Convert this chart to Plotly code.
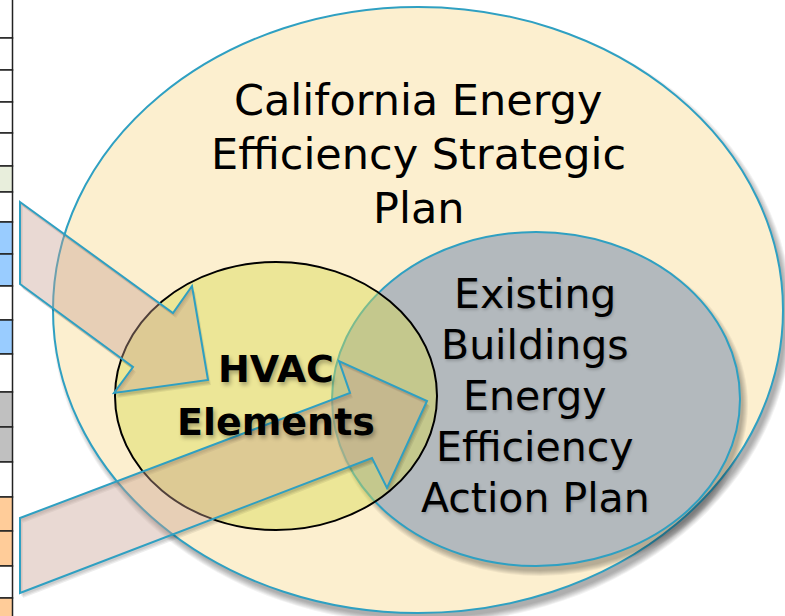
import plotly.graph_objects as go

# ---------------- text content ----------------
title_lines = ["California Energy", "Efficiency Strategic", "Plan"]
action_lines = ["Existing", "Buildings", "Energy", "Efficiency", "Action Plan"]
hvac_lines = ["HVAC", "Elements"]

# left table strip: cell fill categories (top to bottom)
strip_cells = ["w", "w", "w", "w", "w", "green", "w", "blue", "blue", "w", "blue", "w",
               "gray", "gray", "w", "orange", "orange", "w", "orange"]

# ---------------- geometry / styles ----------------
W, H = 785, 616
strip_edges = [-5, 38, 70, 102, 133, 166, 192, 222, 254, 286, 320, 354, 392, 427, 462,
               497, 531, 566, 598, 640]
cell_colors = {"w": "#FFFFFF", "green": "#E8EEDC", "blue": "#99CCFF",
               "gray": "#C0C0C0", "orange": "#FFCC99"}

BLUE = "#2FA0C2"
big = (418, 310, 365, 303)
grayE = (536, 399, 204, 167)
yel = (276, 396, 161, 134)

arrow_up = [(20, 202), (173, 313), (192, 286), (208, 380), (114, 393), (133, 367), (20, 284)]
arrow_lo = [(20, 518), (350, 393), (339, 361), (427, 401), (387, 488), (372, 458), (20, 593)]

shapes = []


def ell(c, grow=0.0, dx=0.0, dy=0.0, **kw):
    cx, cy, rx, ry = c
    return dict(type="circle", xref="x", yref="y", layer="above",
                x0=cx - rx - grow + dx, x1=cx + rx + grow + dx,
                y0=cy - ry - grow + dy, y1=cy + ry + grow + dy, **kw)


def shadow(c, dx=4, dy=6, n=6, alpha=0.045):
    for k in range(n):
        shapes.append(ell(c, grow=(n - k) * 1.0 - 2, dx=dx, dy=dy,
                          fillcolor=f"rgba(0,0,0,{alpha})", line=dict(width=0)))


def path(pts, dx=0, dy=0):
    return "M " + " L ".join(f"{x + dx},{y + dy}" for x, y in pts) + " Z"


def shadow_path(pts, dx, dy):
    # offset polygon with the original polygon cut out (opposite winding)
    outer = path(pts, dx, dy)
    inner = "M " + " L ".join(f"{x},{y}" for x, y in reversed(pts)) + " Z"
    return outer + " " + inner


# left strip
for i, cat in enumerate(strip_cells):
    shapes.append(dict(type="rect", xref="x", yref="y", x0=-3, x1=12.5,
                       y0=strip_edges[i], y1=strip_edges[i + 1],
                       fillcolor=cell_colors[cat], line=dict(color="#222222", width=1.5)))

# big ellipse
shadow(big, dx=4, dy=6, n=7, alpha=0.05)
shapes.append(ell(big, fillcolor="#FCEFCF", line=dict(color=BLUE, width=2)))

# gray ellipse
shadow(grayE, dx=4, dy=6, n=6, alpha=0.05)
shapes.append(ell(grayE, fillcolor="#B3B9BD", line=dict(color=BLUE, width=2)))

# yellow (HVAC) ellipse (semi-transparent over the gray one)
shapes.append(ell(yel, fillcolor="rgba(218,220,82,0.45)", line=dict(color="black", width=2)))

# arrows with soft shadows outside their body
for pts in (arrow_up, arrow_lo):
    for k in range(3):
        shapes.append(dict(type="path", xref="x", yref="y",
                           path=shadow_path(pts, 1 + k, 3 + k),
                           fillcolor="rgba(0,0,0,0.07)", line=dict(width=0)))
    shapes.append(dict(type="path", xref="x", yref="y", path=path(pts),
                       fillcolor="rgba(200,160,145,0.40)", line=dict(color=BLUE, width=2)))

annotations = []
for i, t in enumerate(title_lines):
    annotations.append(dict(x=418, y=100 + 54 * i, xref="x", yref="y", text=t, showarrow=False,
                            xanchor="center", yanchor="middle",
                            font=dict(family="DejaVu Sans", size=43, color="black")))
for i, t in enumerate(action_lines):
    annotations.append(dict(x=535, y=294 + 51 * i, xref="x", yref="y", text=t, showarrow=False,
                            xanchor="center", yanchor="middle",
                            font=dict(family="DejaVu Sans", size=41, color="black",
                                      shadow="1px 2px 3px rgba(0,0,0,0.18)")))
for i, t in enumerate(hvac_lines):
    annotations.append(dict(x=276, y=369 + 53 * i, xref="x", yref="y", text=t, showarrow=False,
                            xanchor="center", yanchor="middle",
                            font=dict(family="DejaVu Sans", size=38, color="black",
                                      weight="bold", shadow="2px 3px 4px rgba(0,0,0,0.3)")))

fig = go.Figure(go.Scatter(x=[], y=[], showlegend=False))
fig.update_layout(
    width=W, height=H, margin=dict(l=0, r=0, t=0, b=0),
    paper_bgcolor="white", plot_bgcolor="white", showlegend=False,
    xaxis=dict(range=[0, W], visible=False, fixedrange=True),
    yaxis=dict(range=[H, 0], visible=False, fixedrange=True),
    shapes=shapes, annotations=annotations,
)
fig.write_html("out.html", config={"displayModeBar": False},
               post_script="document.body.style.margin='0';document.body.style.overflow='hidden';")
